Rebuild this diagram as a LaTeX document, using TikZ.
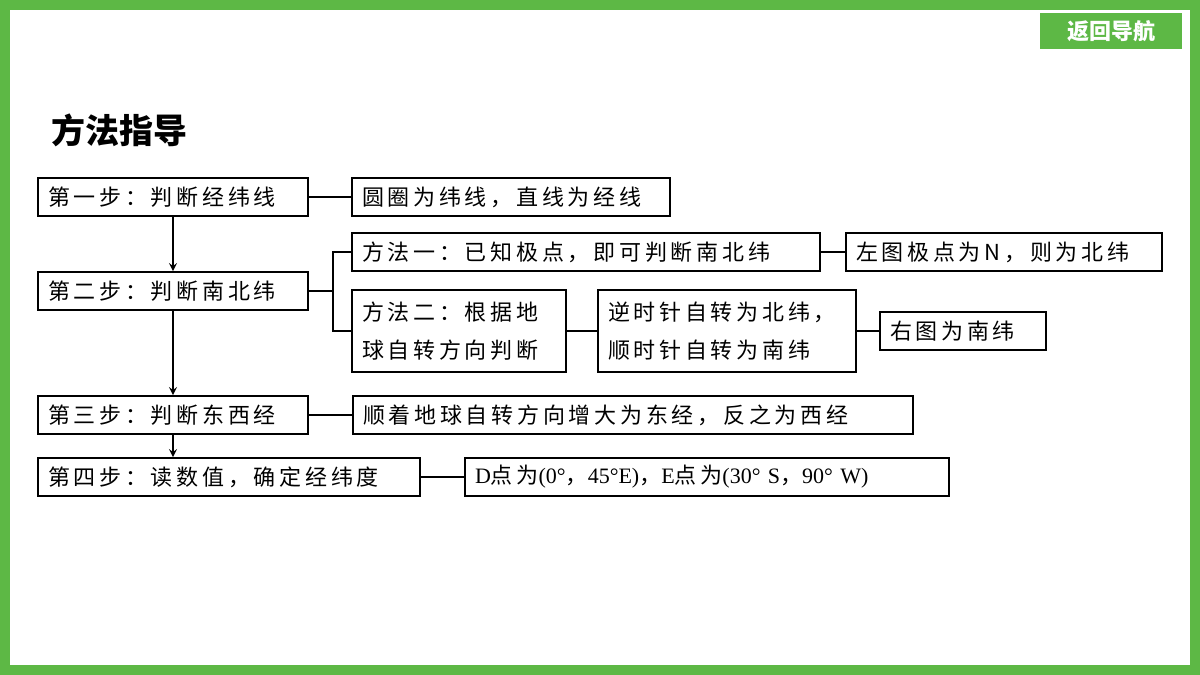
\documentclass[tikz,border=0pt]{standalone}
\usepackage{fontspec}
\setmainfont{Liberation Serif}
\newfontfamily\cjk[LetterSpace=17]{Noto Sans CJK SC}
\newfontfamily\cjkplain{Noto Sans CJK SC}
\definecolor{framegreen}{HTML}{5DB845}
\tikzset{
  stepbox/.style={draw,thick,inner xsep=5pt,inner ysep=0pt,minimum height=19pt,align=left,font=\cjk\fontsize{11}{19}\selectfont},
  link/.style={thick},
  arrowlink/.style={thick,-stealth}
}
\begin{document}
\begin{tikzpicture}[x=0.5pt,y=-0.5pt]
\useasboundingbox (0,0) rectangle (1200,675);
\draw[framegreen,line width=8pt] (2,2) rectangle (1198,673);
\node[fill=framegreen,text=white,minimum width=71pt,minimum height=18pt,font=\cjkplain\bfseries\fontsize{11}{13}\selectfont] (back) at (1111,31) {返回导航};
\node[anchor=west,font=\cjkplain\bfseries\fontsize{17}{20}\selectfont] (title) at (44,130) {方法指导};
% steps
\node[stepbox,text width=125pt] (s1) at (173,197) {第一步：判断经纬线};
\node[stepbox,text width=125pt] (s2) at (173,291) {第二步：判断南北纬};
\node[stepbox,text width=125pt] (s3) at (173,415) {第三步：判断东西经};
\node[stepbox,text width=181pt] (s4) at (229,477) {第四步：读数值，确定经纬度};
% results
\node[stepbox,text width=149pt] (r1) at (511,197) {圆圈为纬线，直线为经线};
\node[stepbox,text width=224pt] (m1) at (586,252) {方法一：已知极点，即可判断南北纬};
\node[stepbox,text width=148pt] (m1r) at (1004,252) {左图极点为N，则为北纬};
\node[stepbox,text width=97pt,minimum height=41pt] (m2) at (459,331) {方法二：根据地\\球自转方向判断};
\node[stepbox,text width=119pt,minimum height=41pt] (m2r) at (727,331) {逆时针自转为北纬，\\顺时针自转为南纬};
\node[stepbox,text width=73pt] (m2rr) at (963,331) {右图为南纬};
\node[stepbox,text width=270pt] (r3) at (633,415) {顺着地球自转方向增大为东经，反之为西经};
\node[stepbox,text width=232pt,font=\fontsize{11}{19}\selectfont] (r4) at (707,477) {D{\cjk 点为}(0°{\cjk ，}45°E){\cjk ，}E{\cjk 点为}(30° S{\cjk ，}90° W)};
% connectors
\coordinate (fork) at (333,291);
\draw[link] (s1) -- (r1);
\draw[link] (s3) -- (r3);
\draw[link] (s4) -- (r4);
\draw[link] (m1) -- (m1r);
\draw[link] (m2) -- (m2r);
\draw[link] (m2r) -- (m2rr);
\draw[link] (s2) -- (fork);
\draw[link] (m1.west) -| (fork) |- (m2.west);
\draw[arrowlink] (s1) -- (s2);
\draw[arrowlink] (s2) -- (s3);
\draw[arrowlink] (s3) -- (s4.north -| s3);
\end{tikzpicture}
\end{document}
